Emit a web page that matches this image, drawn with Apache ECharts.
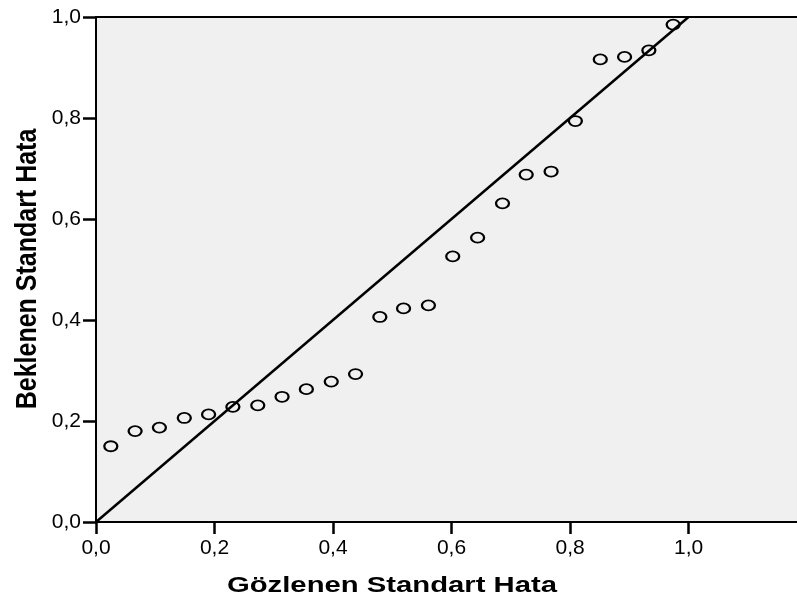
<!DOCTYPE html>
<html>
<head>
<meta charset="utf-8">
<script src="https://cdn.jsdelivr.net/npm/echarts@6/dist/echarts.min.js"></script>
<style>
html,body{margin:0;padding:0;background:#fff;}
#c{width:797px;height:603px;}
</style>
</head>
<body>
<div id="c"></div>
<script>
// Data
var observed = [0.025,0.066,0.107,0.149,0.190,0.231,0.273,0.314,0.355,0.397,0.438,0.479,0.519,0.561,0.602,0.644,0.686,0.726,0.768,0.809,0.851,0.892,0.933,0.974];
var expected = [0.150,0.180,0.187,0.206,0.213,0.228,0.231,0.248,0.263,0.278,0.293,0.406,0.423,0.429,0.526,0.563,0.631,0.688,0.694,0.794,0.916,0.921,0.934,0.985];
var refLineX = [0, 1];
var refLineY = [0, 1];
var tickValues = [0, 0.2, 0.4, 0.6, 0.8, 1.0];
var xTitle = 'Gözlenen Standart Hata';
var yTitle = 'Beklenen Standart Hata';

var FONT = '"Liberation Sans", Arial, sans-serif';
function fmt(v){
  for (var i = 0; i < tickValues.length; i++) {
    if (Math.abs(v - tickValues[i]) < 1e-6) return tickValues[i].toFixed(1).replace('.', ',');
  }
  return '';
}

var points = observed.map(function(x, i){ return [x, expected[i]]; });
var line = refLineX.map(function(x, i){ return [x, refLineY[i]]; });

var chart = echarts.init(document.getElementById('c'), null, {renderer:'canvas'});
chart.setOption({
  backgroundColor: '#ffffff',
  animation: false,
  grid: {
    left: 96, top: 17, right: 0, bottom: 81,
    show: true, backgroundColor: '#f0f0f0', borderWidth: 0
  },
  xAxis: [{
    type: 'value', min: 0, max: 1.183, interval: 0.2, position: 'bottom',
    splitLine: {show: false},
    axisLine: {show: true, onZero: false, lineStyle: {color: '#000', width: 2}},
    axisTick: {show: true, inside: false, length: 12, lineStyle: {color: '#000', width: 2.5}},
    axisLabel: {show: true, margin: 16, color: '#000', fontSize: 21, fontFamily: FONT,
                showMaxLabel: false, formatter: fmt}
  }, {
    type: 'value', min: 0, max: 1.183, position: 'top',
    splitLine: {show: false},
    axisLine: {show: true, onZero: false, lineStyle: {color: '#000', width: 2}},
    axisTick: {show: false},
    axisLabel: {show: false}
  }],
  yAxis: {
    type: 'value', min: 0, max: 1, interval: 0.2,
    splitLine: {show: false},
    axisLine: {show: true, onZero: false, lineStyle: {color: '#000', width: 2}},
    axisTick: {show: true, inside: false, length: 13, lineStyle: {color: '#000', width: 2.5}},
    axisLabel: {show: true, margin: 15, color: '#000', fontSize: 21, fontFamily: FONT, formatter: fmt}
  },
  graphic: [{
    type: 'text', x: 392, y: 586, scaleX: 1.33,
    style: {text: xTitle, font: 'bold 22px ' + FONT, fill: '#000', textAlign: 'center', textVerticalAlign: 'middle'}
  }, {
    type: 'text', x: 28, y: 269, rotation: Math.PI / 2, scaleY: 1.2,
    style: {text: yTitle, font: 'bold 25px ' + FONT, fill: '#000', textAlign: 'center', textVerticalAlign: 'middle'}
  }],
  series: [{
    type: 'line', data: line, xAxisIndex: 0, showSymbol: false, symbol: 'none',
    lineStyle: {color: '#000', width: 2.5}, silent: true, z: 2
  }, {
    type: 'scatter', data: points, xAxisIndex: 0,
    symbol: 'circle', symbolSize: [13, 10],
    itemStyle: {color: 'rgba(0,0,0,0)', borderColor: '#000', borderWidth: 2, opacity: 1},
    z: 3
  }]
});
</script>
</body>
</html>
